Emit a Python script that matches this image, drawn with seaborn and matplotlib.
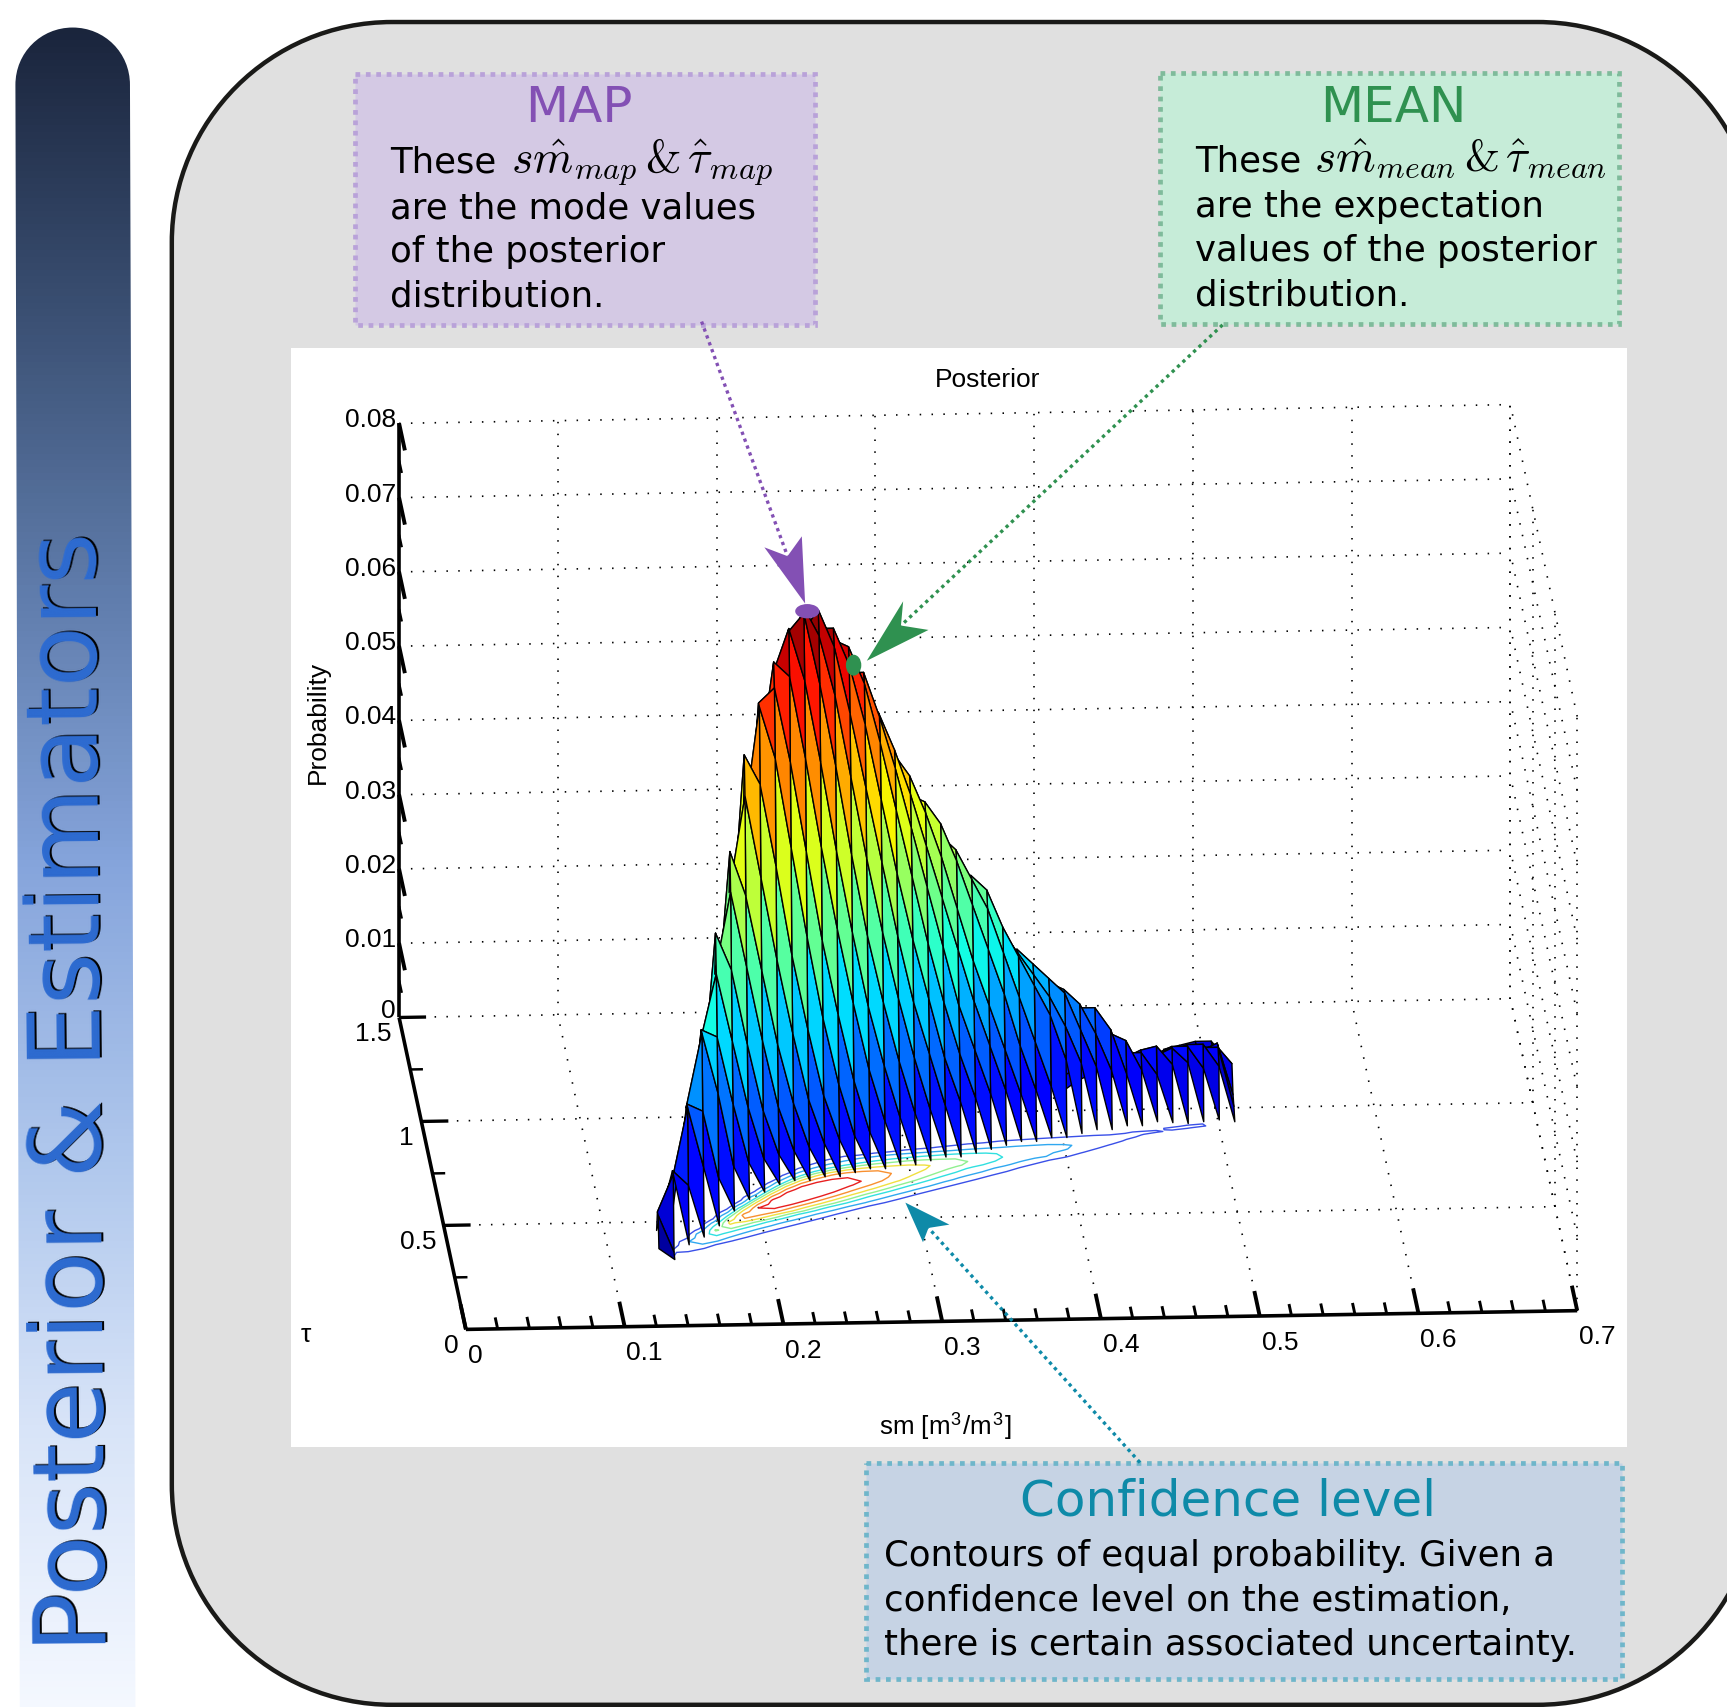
import matplotlib
matplotlib.use('Agg')
import matplotlib.pyplot as plt
import numpy as np
import seaborn as sns
from matplotlib.colors import LinearSegmentedColormap, Normalize
from matplotlib.patches import Ellipse, PathPatch, Polygon, Rectangle
from matplotlib.path import Path
from mpl_toolkits.mplot3d import proj3d
from mpl_toolkits.mplot3d.art3d import Poly3DCollection

sns.set_theme(style='white')
plt.rcParams['font.family'] = 'DejaVu Sans'
plt.rcParams['mathtext.fontset'] = 'cm'
plt.rcParams['text.color'] = 'black'

# surface: z in 1e-3, one row per tau, starting at column ROW_START (sm in 1e-2)
SM_COLS = [c / 100 for c in range(11, 52)]
TAU_ROWS = [0.300, 0.317, 0.334, 0.352, 0.369, 0.386, 0.403, 0.420, 0.438, 0.455, 0.472, 0.489,
            0.506, 0.524, 0.541, 0.558, 0.575, 0.592, 0.610, 0.627, 0.644, 0.661, 0.678, 0.696,
            0.713, 0.730, 0.747, 0.764, 0.782, 0.799, 0.816, 0.833, 0.850, 0.868, 0.880, 0.892,
            0.900, 0.907, 0.915, 0.935, 0.955, 0.980, 1.000, 1.030, 1.060, 1.090]
ROW_START = [13, 13, 13, 13, 14, 14, 15, 15, 15, 16, 16, 17, 17, 17, 18, 18, 19, 19, 19, 20, 20, 21, 21,
             22, 22, 23, 23, 24, 25, 26, 28, 30, 31, 34, 37, 40, 43, 45, 45, 46, 46, 47, 47, 47, 47, 47]
ROW_VALUES = [
    [2, 0.5],
    [6, 1],
    [6, 11, 1.5],
    [3, 11, 9, 2],
    [9, 19, 11, 3],
    [3, 19, 18, 9, 4.5],
    [18, 28, 20, 10, 5.5],
    [8, 28, 27, 18, 10, 6],
    [3, 26, 35, 26, 17, 10, 6.5],
    [15, 40, 35, 25, 16, 10, 6.5],
    [6, 34, 45, 35, 25, 16, 10, 6],
    [24, 50, 44, 34, 24, 16, 10, 6],
    [12, 44, 57, 46, 35, 25, 16, 10, 5.5],
    [5, 32, 62, 58, 47, 35, 25, 16, 10, 5.5],
    [19, 52, 68, 61, 49, 37, 26, 17, 10, 5.5],
    [9, 40, 68, 70, 60, 48, 36, 26, 17, 10, 5],
    [25, 58, 73, 71, 60, 48, 37, 27, 18, 11, 5],
    [12, 44, 71, 77, 70, 59, 47, 36, 26, 18, 11, 4.5],
    [6, 29, 60, 76, 78.5, 69, 58, 46, 35, 26, 18, 11, 4.5],
    [16, 46, 70, 79, 75, 67, 56, 45, 35, 26, 18, 11, 4.5],
    [8, 32, 59, 75, 78, 73, 64, 54, 44, 34, 25, 18, 11, 4],
    [20, 46, 66, 75, 75, 70, 62, 52, 42, 33, 25, 17, 11, 4],
    [11, 32, 54, 67, 73, 72, 67, 59, 50, 41, 32, 24, 17, 11, 4],
    [20, 40, 56, 65, 68, 68, 62, 55, 47, 39, 31, 23, 17, 11, 4],
    [11, 27, 43, 56, 63, 65, 62, 57, 51, 44, 37, 30, 23, 17, 11, 4],
    [17, 30, 41, 50, 55, 57, 56, 53, 48, 42, 35, 28, 22, 16, 10, 3.5],
    [9, 19, 29, 37, 43, 47, 49, 50, 49, 46, 41, 35, 29, 23, 16, 10, 3.5],
    [11, 19, 26, 32, 37, 40, 43, 44, 44, 42, 38, 34, 28, 22, 16, 10, 3],
    [12, 17, 23, 27, 31, 34, 36, 37, 38, 38, 36, 31, 27, 23, 19, 13, 3],
    [10, 14, 18, 22, 25, 28, 30, 32, 33, 33, 30, 27, 24, 21, 17, 12, 3],
    [8, 11, 14, 16, 19, 21, 23, 24, 26, 27, 25, 23, 21, 16, 11, 2.5],
    [7, 9, 11, 13, 15, 17, 18, 20, 21, 22, 21, 19, 15, 10, 2.5],
    [5.5, 7, 8, 10, 11, 13, 14, 15, 16, 17, 18, 18, 15, 9, 2],
    [5.5, 7, 8, 9, 10, 11, 12, 13, 14, 14, 13, 9, 2],
    [5.5, 6, 7, 8, 9, 10, 10.5, 11, 11, 8, 1.5],
    [5.5, 7, 8, 9, 10, 11, 11.5, 9, 1],
    [7, 8, 9, 10, 11, 9, 1],
    [9, 10, 11, 11, 8, 1],
    [8, 9, 10, 11, 11, 8, 0.5],
    [7, 8, 9, 10, 10, 2],
    [6, 7, 8, 9, 10, 3],
    [6, 7, 8, 9, 6.5],
    [5.5, 6.5, 7, 8, 6],
    [5.5, 6, 6.5, 7, 5],
    [5.5, 6, 6.5, 6.5, 4.5],
    [5.5, 6, 6.5, 6.5, 4],
]
CONTOUR_LEVELS = [0.0105, 0.020, 0.031, 0.039, 0.048, 0.058, 0.068]
CONTOUR_COLORS = ['#3a50e8', '#30a8f0', '#30e0e0', '#90f090', '#f0e040', '#f89030', '#e82020']

SM_TICKS = [0, 0.1, 0.2, 0.3, 0.4, 0.5, 0.6, 0.7]
SM_MINOR = [i * 0.02 for i in range(36) if i % 5]
TAU_TICKS = [0.5, 1, 1.5]
TAU_MINOR = [0.25, 0.75, 1.25]
Z_TICKS = [0, 0.01, 0.02, 0.03, 0.04, 0.05, 0.06, 0.07, 0.08]
Z_MINOR = [0.005, 0.015, 0.025, 0.035, 0.045, 0.055, 0.065, 0.075]


def fmt(v):
    return ('%g' % v)


def rounded(x0, y0, x1, y1, r):
    k = r * 0.448
    verts = [(x0 + r, y0), (x1 - r, y0), (x1 - k, y0), (x1, y0 + k), (x1, y0 + r),
             (x1, y1 - r), (x1, y1 - k), (x1 - k, y1), (x1 - r, y1),
             (x0 + r, y1), (x0 + k, y1), (x0, y1 - k), (x0, y1 - r),
             (x0, y0 + r), (x0, y0 + k), (x0 + k, y0), (x0 + r, y0)]
    codes = [Path.MOVETO, Path.LINETO, Path.CURVE4, Path.CURVE4, Path.CURVE4,
             Path.LINETO, Path.CURVE4, Path.CURVE4, Path.CURVE4,
             Path.LINETO, Path.CURVE4, Path.CURVE4, Path.CURVE4,
             Path.LINETO, Path.CURVE4, Path.CURVE4, Path.CURVE4]
    return Path(verts, codes)


fig = plt.figure(figsize=(17.27, 17.07), dpi=100, facecolor='white')

# background layer, in the coordinates of the shrunk picture
bg = fig.add_axes([0, 0, 1, 1])
bg.set_xlim(0, 1568)
bg.set_ylim(1550, 0)
bg.axis('off')
bg.add_patch(PathPatch(rounded(156, 20, 1596, 1548, 200), facecolor='#e0e0e0', edgecolor='#1a1a18', lw=3.2))
bg.add_patch(Rectangle((264, 316), 1213, 998, facecolor='white', edgecolor='none'))

# sidebar
bar_path = Path([(14, 77), (14, 48), (37, 25), (66, 25), (95, 25), (118, 48), (118, 77), (123, 1560), (18, 1560), (14, 77)],
                [Path.MOVETO, Path.CURVE4, Path.CURVE4, Path.CURVE4, Path.CURVE4, Path.CURVE4, Path.CURVE4,
                 Path.LINETO, Path.LINETO, Path.CLOSEPOLY])
bar_cmap = LinearSegmentedColormap.from_list('bar', ['#1a253c', '#3a4f72', '#5f7cab', '#86a5dc', '#aec6ec', '#d8e4f8', '#f4f8ff'])
im = bg.imshow(np.linspace(0, 1, 256).reshape(-1, 1), cmap=bar_cmap, extent=(10, 130, 1550, 25), aspect='auto', zorder=2)
im.set_clip_path(PathPatch(bar_path, transform=bg.transData))
bg.set_xlim(0, 1568)
bg.set_ylim(1550, 0)
bg.text(69, 991, 'Posterior & Estimators', rotation=90.5, ha='center', va='center', fontsize=72.2, color='black', zorder=3)
bg.text(67, 992, 'Posterior & Estimators', rotation=90.5, ha='center', va='center', fontsize=72.2, color='#2e6cd2', zorder=3)

# 3d layer
ax = fig.add_axes([0.1, 0.1, 0.8, 0.8], projection='3d', computed_zorder=False)
ax.set_proj_type('ortho')
ax.view_init(elev=16.3, azim=-93.44)
ax.set_box_aspect((1, 1, 0.556))
ax.set_xlim(0, 0.7)
ax.set_ylim(0, 1.5)
ax.set_zlim(0, 0.08)
ax.set_axis_off()
ax.patch.set_alpha(0)

S = 1727 / 1568


def screen(x, y, z):
    xs, ys, _ = proj3d.proj_transform(x, y, z, ax.get_proj())
    return ax.transData.transform((xs, ys))


# put the box where the reference has it: origin and far end of the sm axis
target0 = np.array([423 * S, 1707 - 1207 * S])
target1 = np.array([1432 * S, 1707 - 1190 * S])
side = 1300.0
cx, cy = 860.0, 850.0
for _ in range(3):
    ax.set_position([(cx - side / 2) / 1727, (cy - side / 2) / 1707, side / 1727, side / 1707])
    ax.apply_aspect()
    p0, p1 = screen(0, 0, 0), screen(0.7, 0, 0)
    side *= np.linalg.norm(target1 - target0) / np.linalg.norm(p1 - p0)
    ax.set_position([(cx - side / 2) / 1727, (cy - side / 2) / 1707, side / 1727, side / 1707])
    ax.apply_aspect()
    p0 = screen(0, 0, 0)
    cx += target0[0] - p0[0]
    cy += target0[1] - p0[1]
ax.set_position([(cx - side / 2) / 1727, (cy - side / 2) / 1707, side / 1727, side / 1707])
ax.apply_aspect()

# dotted walls and floor
dots = dict(color='black', lw=1.2, ls=(0, (0.9, 6.2)), zorder=1)
for s in SM_TICKS[1:]:
    ax.plot([s, s], [0, 1.5], [0, 0], **dots)
    ax.plot([s, s], [1.5, 1.5], [0, 0.08], **dots)
for t in TAU_TICKS[:2]:
    ax.plot([0, 0.7], [t, t], [0, 0], **dots)
for t in [0, 0.5, 1, 1.5]:
    ax.plot([0.7, 0.7], [t, t], [0, 0.08], **dots)
for z in Z_TICKS:
    ax.plot([0, 0.7], [1.5, 1.5], [z, z], **dots)
    ax.plot([0.7, 0.7], [0, 1.5], [z, z], **dots)

# bold axes and ticks
bold = dict(color='black', solid_capstyle='butt', zorder=2)
ax.plot([0, 0.7], [0, 0], [0, 0], lw=2.6, **bold)
ax.plot([0, 0], [0, 1.5], [0, 0], lw=2.6, **bold)
ax.plot([0, 0], [1.5, 1.5], [0, 0.08], lw=2.6, **bold)
for s in SM_TICKS:
    ax.plot([s, s], [0, 0.12], [0, 0], lw=2.8, **bold)
for s in SM_MINOR:
    ax.plot([s, s], [0, 0.055], [0, 0], lw=2.1, **bold)
for t in TAU_TICKS:
    ax.plot([0, 0.017], [t, t], [0, 0], lw=2.4, **bold)
for t in TAU_MINOR:
    ax.plot([0, 0.008], [t, t], [0, 0], lw=1.8, **bold)
for z in Z_TICKS[1:]:
    ax.plot([0, 0], [1.5, 1.37], [z, z], lw=2.8, **bold)
for z in Z_MINOR:
    ax.plot([0, 0], [1.5, 1.44], [z, z], lw=1.8, **bold)

# table to grid
Z = np.full((len(TAU_ROWS), len(SM_COLS)), np.nan)
for i, (start, vals) in enumerate(zip(ROW_START, ROW_VALUES)):
    Z[i, start - 11:start - 11 + len(vals)] = vals
Z = Z * 1e-3
SM_G, TAU_G = np.meshgrid(SM_COLS, TAU_ROWS)

# floor contours under the surface
ax.contour(SM_G, TAU_G, np.nan_to_num(Z), levels=CONTOUR_LEVELS, zdir='z', offset=0,
           colors=sns.color_palette(CONTOUR_COLORS), linewidths=1.0, zorder=3)

# quads of the mesh where all four corners exist
norm = Normalize(0, 0.078)
jet = plt.get_cmap('jet')
quads, face = [], []
for i in range(len(TAU_ROWS) - 1):
    for j in range(len(SM_COLS) - 1):
        zz = [Z[i, j], Z[i, j + 1], Z[i + 1, j + 1], Z[i + 1, j]]
        if np.isnan(zz).any():
            continue
        quads.append([(SM_COLS[j], TAU_ROWS[i], zz[0]), (SM_COLS[j + 1], TAU_ROWS[i], zz[1]),
                      (SM_COLS[j + 1], TAU_ROWS[i + 1], zz[2]), (SM_COLS[j], TAU_ROWS[i + 1], zz[3])])
        face.append(jet(norm(np.mean(zz))))
ax.add_collection3d(Poly3DCollection(quads, facecolors=face, edgecolors='black', linewidths=1.0, zorder=4))

# top layer with callouts
top = fig.add_axes([0, 0, 1, 1])
top.set_xlim(0, 1568)
top.set_ylim(1550, 0)
top.axis('off')
top.patch.set_alpha(0)

plot_font = 'Liberation Sans'


def axis_label(x, y, z, text, ha):
    px, py = screen(x, y, z)
    top.text(px / S, (1707 - py) / S, text, ha=ha, va='center', fontsize=19, family=plot_font)


# tick labels
for s in SM_TICKS:
    axis_label(s + (0.002 if s == 0 else 0.009), -0.13, 0, fmt(s), 'center')
for t in [0] + TAU_TICKS:
    axis_label(-0.007, t - 0.08, 0, fmt(t), 'right')
for z in Z_TICKS:
    axis_label(-0.002, 1.5, z + (0.0008 if z == 0 else 0.0004), fmt(z), 'right')

top.text(897, 345, 'Posterior', ha='center', va='center', fontsize=19, family=plot_font)
top.text(289, 656, 'Probability', rotation=90, ha='center', va='center', fontsize=19, family=plot_font)
top.text(278, 1212, 'τ', ha='center', va='center', fontsize=19, family=plot_font)
top.text(858, 1296, r'sm [m$^{\mathregular{3}}$/m$^{\mathregular{3}}$]', ha='center', va='center', fontsize=18.7, family=plot_font)


def callout(x0, y0, x1, y1, fill, edge):
    top.add_patch(Rectangle((x0, y0), x1 - x0, y1 - y0, facecolor=fill, edgecolor=edge, lw=3.4, ls=(0, (1.0, 1.2))))


def arrow(start, notch, tip, b1, b2, color):
    top.plot([start[0], notch[0]], [start[1], notch[1]], color=color, lw=2.4, ls=(0, (1, 1.2)))
    top.add_patch(Polygon([tip, b1, notch, b2], closed=True, facecolor=color, edgecolor='none'))


PURPLE = '#8350b4'
GREEN = '#2f9150'
TEAL = '#0e8aa8'
BODY = 25.6

callout(322, 67, 740, 295, '#d4c9e4', '#b9a2d9')
top.text(526, 98, 'MAP', ha='center', va='center', fontsize=36, color=PURPLE)
top.text(354, 157, 'These', fontsize=BODY, va='baseline')
top.text(464, 156, r'$s\hat{m}_{map}\,&\,\hat{\tau}_{map}$', fontsize=33, va='baseline')
for y, line in zip([198, 238, 278], ['are the mode values', 'of the posterior', 'distribution.']):
    top.text(354, y, line, fontsize=BODY, va='baseline')

callout(1053, 66, 1470, 294, '#c6ecd8', '#7fbb9b')
top.text(1265, 98, 'MEAN', ha='center', va='center', fontsize=36, color=GREEN)
top.text(1085, 156, 'These', fontsize=BODY, va='baseline')
top.text(1193, 155, r'$s\hat{m}_{mean}\,&\,\hat{\tau}_{mean}$', fontsize=32.5, va='baseline')
for y, line in zip([197, 237, 277], ['are the expectation', 'values of the posterior', 'distribution.']):
    top.text(1085, y, line, fontsize=BODY, va='baseline')

callout(786, 1328, 1473, 1525, '#c6d3e4', '#6fb6ca')
top.text(1115, 1363, 'Confidence level', ha='center', va='center', fontsize=36, color=TEAL)
for y, line in zip([1422, 1463, 1503], ['Contours of equal probability. Given a', 'confidence level on the estimation,',
                                        'there is certain associated uncertainty.']):
    top.text(803, y, line, fontsize=BODY, va='baseline')

arrow((637, 292), (715, 505), (731, 548), (694, 497), (728, 487), PURPLE)
arrow((1110, 295), (818, 568), (787, 600), (820, 546), (843, 572), GREEN)
arrow((1035, 1328), (843, 1115), (822, 1092), (862, 1112), (838, 1128), TEAL)
top.add_patch(Ellipse((733, 555), 22, 13, facecolor=PURPLE, edgecolor='none'))
top.add_patch(Ellipse((775, 604), 14, 19, facecolor=GREEN, edgecolor='none'))

fig.savefig('out.png', dpi=100)
